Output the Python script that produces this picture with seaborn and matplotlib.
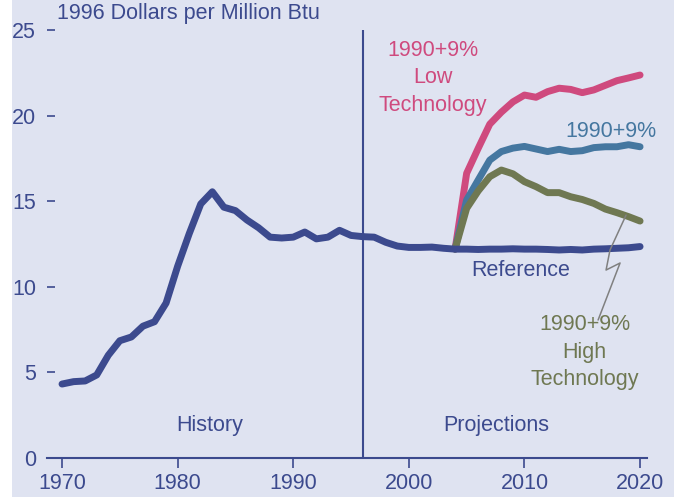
import numpy as np
import pandas as pd
import seaborn as sns
import matplotlib.pyplot as plt

# history + reference case
years_hist = list(range(1970, 1997))
price_hist = [4.32, 4.46, 4.5, 4.85, 6.0, 6.85, 7.07, 7.7, 7.96, 9.05,
              11.2, 13.1, 14.84, 15.55, 14.65, 14.45, 13.9, 13.45, 12.9, 12.85,
              12.9, 13.2, 12.8, 12.9, 13.3, 13.0, 12.93]

years_proj = list(range(1996, 2021))
price_ref = [12.93, 12.9, 12.6, 12.38, 12.3, 12.3, 12.32, 12.25, 12.2, 12.2,
             12.18, 12.2, 12.2, 12.22, 12.2, 12.2, 12.18, 12.15, 12.18, 12.15,
             12.2, 12.22, 12.25, 12.28, 12.35]

years_case = list(range(2004, 2021))
price_low_tech = [12.2, 16.63, 18.09, 19.5, 20.2, 20.8, 21.2, 21.07, 21.4, 21.6,
                  21.53, 21.34, 21.5, 21.77, 22.04, 22.2, 22.37]
price_9pct = [12.2, 15.07, 16.24, 17.4, 17.9, 18.1, 18.2, 18.05, 17.9, 18.03,
              17.9, 17.95, 18.13, 18.18, 18.18, 18.3, 18.18]
price_high_tech = [12.2, 14.58, 15.6, 16.43, 16.82, 16.6, 16.14, 15.85, 15.5, 15.5,
                   15.26, 15.1, 14.87, 14.54, 14.33, 14.1, 13.84]

# leader line from the high technology label up to its curve
leader_x = [2018.79, 2017.40, 2017.06, 2018.27, 2016.37]
leader_y = [14.19, 12.15, 10.98, 11.39, 8.06]

bg = "#dfe3f1"
navy = "#3c4a8e"
pink = "#cf4a7e"
blue = "#4577a0"
olive = "#6f7852"

sns.set_style("white")
plt.rcParams["font.family"] = ["Liberation Sans", "DejaVu Sans"]

fig = plt.figure(figsize=(6.74, 4.97), dpi=100, facecolor=bg)
fig.patches.append(plt.Rectangle((0, 0), 12 / 674, 1, transform=fig.transFigure,
                                 facecolor="white", edgecolor="none", zorder=-1))
ax = fig.add_axes([47 / 674, 1 - 458 / 497, 600 / 674, 428 / 497])
ax.set_facecolor(bg)

df_hist = pd.DataFrame({"year": years_hist, "price": price_hist})
df_ref = pd.DataFrame({"year": years_proj, "price": price_ref})
df_low = pd.DataFrame({"year": years_case, "price": price_low_tech})
df_9 = pd.DataFrame({"year": years_case, "price": price_9pct})
df_high = pd.DataFrame({"year": years_case, "price": price_high_tech})

lw = 5
sns.lineplot(data=df_low, x="year", y="price", color=pink, linewidth=lw, ax=ax)
sns.lineplot(data=df_9, x="year", y="price", color=blue, linewidth=lw, ax=ax)
sns.lineplot(data=df_high, x="year", y="price", color=olive, linewidth=lw, ax=ax)
sns.lineplot(data=df_ref, x="year", y="price", color=navy, linewidth=lw, ax=ax)
sns.lineplot(data=df_hist, x="year", y="price", color=navy, linewidth=lw, ax=ax)

ax.plot(leader_x, leader_y, color="#808080", linewidth=1.1)
ax.axvline(1996, ymin=0, ymax=1, color=navy, linewidth=1.5)

ax.set_xlim(1968.7, 2020.6)
ax.set_ylim(0, 25)
ax.set_xticks([1970, 1980, 1990, 2000, 2010, 2020])
ax.set_yticks([0, 5, 10, 15, 20, 25])
ax.set_xlabel("")
ax.set_ylabel("")
for s in ["top", "right", "left"]:
    ax.spines[s].set_visible(False)
ax.spines["bottom"].set_color(navy)
ax.spines["bottom"].set_linewidth(1.5)
ax.tick_params(axis="x", direction="out", length=7, width=1.2, color=navy,
               labelcolor=navy, labelsize=15.5, pad=4, bottom=True)
ax.tick_params(axis="y", direction="in", length=6, width=1.2, color=navy,
               labelcolor=navy, labelsize=15.5, pad=8, left=True)

fs = 15.5
ax.text(2002.1, 22.2, "1990+9%\nLow\nTechnology", color=pink, fontsize=fs,
        ha="center", va="center", linespacing=1.4)
ax.text(2017.5, 19.1, "1990+9%", color=blue, fontsize=fs, ha="center", va="center")
ax.text(2009.7, 10.98, "Reference", color=navy, fontsize=fs, ha="center", va="center")
ax.text(2015.2, 6.19, "1990+9%\nHigh\nTechnology", color=olive, fontsize=fs,
        ha="center", va="center", linespacing=1.4)
ax.text(1982.8, 1.87, "History", color=navy, fontsize=fs, ha="center", va="center")
ax.text(2007.6, 1.87, "Projections", color=navy, fontsize=fs, ha="center", va="center")
fig.text(57 / 674, 1 - 14 / 497, "1996 Dollars per Million Btu", color=navy,
         fontsize=fs, ha="left", va="center")

fig.savefig("out.png", dpi=100, facecolor=bg)
